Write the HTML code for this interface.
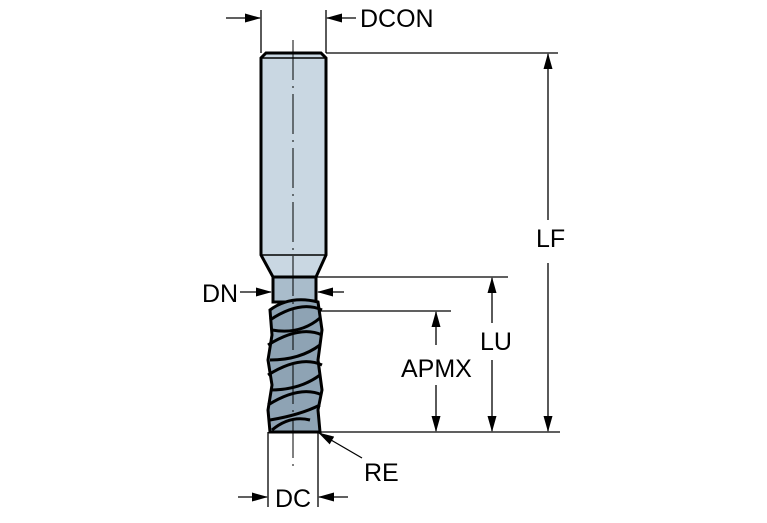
<!DOCTYPE html>
<html><head><meta charset="utf-8"><style>
html,body{margin:0;padding:0;background:#fff}
svg{display:block}
text{font-family:"Liberation Sans",sans-serif;font-size:25px;fill:#000}
</style></head><body>
<svg width="767" height="523" viewBox="0 0 767 523">
<defs>
<marker id="a" markerWidth="16" markerHeight="10" refX="15" refY="5" orient="auto" markerUnits="userSpaceOnUse"><path d="M0,0.5 L16,5 L0,9.5 Z" fill="#000"/></marker>
</defs>
<path d="M266,53 L321,53 L326,58 L326,255 L316,277 L273,277 L261,255 L261,58 Z" fill="#c9d7e2" stroke="#000" stroke-width="3"/>
<line x1="261" y1="58" x2="326" y2="58" stroke="#000" stroke-width="1.5"/>
<line x1="261" y1="255" x2="326" y2="255" stroke="#000" stroke-width="1.5"/>
<rect x="273" y="277" width="43" height="25" fill="#a9bccb" stroke="#000" stroke-width="3"/>
<path d="M270,310 Q290,295 318,302 L322,330 L318,360 L322,390 L318,410 L320,432 L270,432 L268,410 L272,385 L268,360 L272,335 Z" fill="#8ea3b4" stroke="#000" stroke-width="3"/>
<g fill="none" stroke="#000" stroke-width="3">
<path d="M270,320 Q300,300 322,310"/>
<path d="M272,330 Q300,335 320,318"/>
<path d="M268,345 Q300,325 322,335"/>
<path d="M270,360 Q300,360 320,345"/>
<path d="M268,375 Q300,355 322,365"/>
<path d="M270,390 Q300,390 320,375"/>
<path d="M268,405 Q300,385 322,395"/>
<path d="M270,420 Q300,415 320,405"/>
<path d="M272,430 Q290,415 310,420"/>
</g>
<line x1="293" y1="40" x2="293" y2="470" stroke="#000" stroke-width="1" stroke-dasharray="40,6,2,6"/>
<g stroke="#000" stroke-width="1.3" fill="none">
<line x1="261" y1="10" x2="261" y2="53"/><line x1="326" y1="10" x2="326" y2="53"/>
<line x1="226" y1="18" x2="260" y2="18" marker-end="url(#a)"/>
<line x1="356" y1="18" x2="327" y2="18" marker-end="url(#a)"/>
<line x1="326" y1="53" x2="558" y2="53"/>
<line x1="318" y1="432" x2="560" y2="432"/>
<line x1="548" y1="220" x2="548" y2="54" marker-end="url(#a)"/>
<line x1="548" y1="263" x2="548" y2="431" marker-end="url(#a)"/>
<line x1="316" y1="277" x2="508" y2="277"/>
<line x1="492" y1="323" x2="492" y2="278" marker-end="url(#a)"/>
<line x1="492" y1="360" x2="492" y2="431" marker-end="url(#a)"/>
<line x1="318" y1="311" x2="451" y2="311"/>
<line x1="436" y1="345" x2="436" y2="312" marker-end="url(#a)"/>
<line x1="436" y1="385" x2="436" y2="431" marker-end="url(#a)"/>
<line x1="240" y1="292" x2="271" y2="292" marker-end="url(#a)"/>
<line x1="344" y1="292" x2="318" y2="292" marker-end="url(#a)"/>
<line x1="268" y1="432" x2="268" y2="507"/><line x1="318" y1="432" x2="318" y2="507"/>
<line x1="238" y1="497" x2="267" y2="497" marker-end="url(#a)"/>
<line x1="348" y1="497" x2="319" y2="497" marker-end="url(#a)"/>
<line x1="362" y1="458" x2="319" y2="433" marker-end="url(#a)"/>
</g>
<text x="360" y="27">DCON</text>
<text x="536" y="247">LF</text>
<text x="480" y="350">LU</text>
<text x="401" y="377">APMX</text>
<text x="202" y="302">DN</text>
<text x="275" y="507">DC</text>
<text x="364" y="481">RE</text>
</svg>
</body></html>
